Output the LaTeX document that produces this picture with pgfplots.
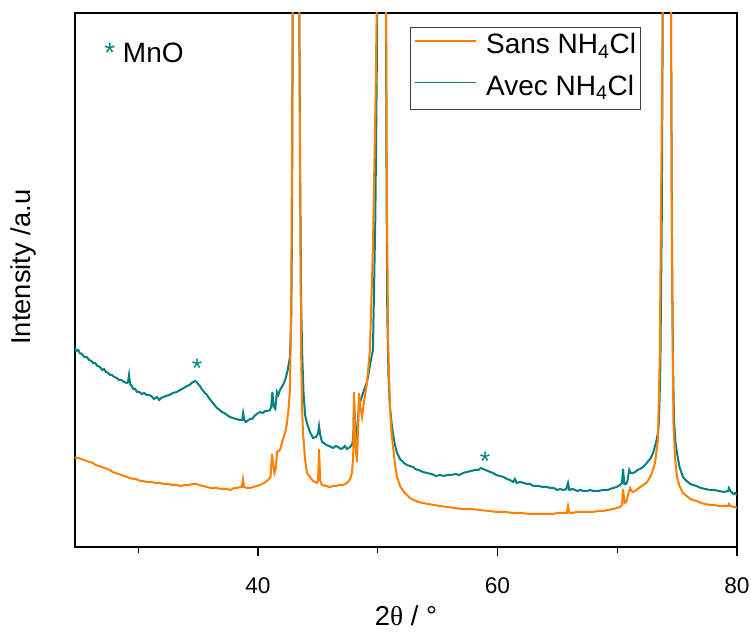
\documentclass[border=0pt]{standalone}
\usepackage{pgfplots}
\pgfplotsset{compat=1.18}
\usepackage{fontspec}
\setmainfont{Liberation Sans}
\newfontfamily\seriffont{Liberation Serif}
\definecolor{myorange}{RGB}{255,128,0}
\definecolor{myteal}{RGB}{0,128,128}

\begin{document}
\begin{tikzpicture}
\begin{axis}[
 at={(0pt,0pt)}, anchor=south west,
 scale only axis, width=496.5pt, height=400.5pt,
 xmin=24.72, xmax=80, ymin=0, ymax=534,
 xtick={40,60,80}, minor xtick={30,50,70},
 ytick=\empty,
 xtick pos=bottom, tick align=outside,
 major tick length=6.5pt, minor tick length=4.5pt,
 every tick/.style={black, line width=0.9pt},
 axis line style={line width=1.1pt},
 /pgf/number format/assume math mode=true,
 xticklabel style={font=\fontsize{17}{20}\selectfont, anchor=center, yshift=-22.5pt},
 xlabel={2{\seriffont θ} / °},
 xlabel style={at={(axis description cs:0.5,-0.129)}, anchor=center, font=\fontsize{20.5}{24}\selectfont},
 ylabel={Intensity /a.u},
 ylabel style={at={(axis description cs:-0.0785,0.524)}, anchor=center, font=\fontsize{20.5}{24}\selectfont},
 legend style={at={(axis description cs:0.8545,0.9743)}, anchor=north east,
   draw=black!75, line width=0.75pt, font=\fontsize{21}{25}\selectfont,
   inner xsep=3pt, inner ysep=5pt, row sep=10pt, column sep=6.75pt,
   nodes={inner sep=0pt, text height=15pt, text depth=6pt}},
 legend cell align=left,
 legend image code/.code={\draw[#1, line width=1.2pt] (0pt,5pt) -- (46pt,5pt);},
]
\addplot[myteal, line width=1.5pt, forget plot] table {
24.72 200
24.80 196
25.00 197
25.10 194
25.30 193
25.50 190
25.70 190
25.90 187
26.10 186
26.22 184
26.40 184
26.60 181
26.80 180
27.00 177
27.15 178
27.30 175
27.50 174
27.64 172
27.80 172
28.00 170
28.20 169
28.40 167
28.60 167
28.80 165
29.06 164
29.15 165
29.23 172
29.32 163
29.45 161
29.60 158
29.75 158
29.90 155
30.10 155
30.30 153
30.50 154
30.70 152
30.90 152
31.10 151
31.30 148
31.57 150
31.75 147
31.90 149
32.10 150
32.30 151
32.60 152
32.90 154
33.20 155
33.50 157
33.80 159
34.07 161
34.30 162
34.45 164
34.60 165
34.74 166
34.88 165
35.00 163
35.15 161
35.30 158
35.50 155
35.74 152
35.90 149
36.10 146
36.30 143
36.58 139
36.80 137
37.00 135
37.20 134
37.41 132
37.65 130
37.90 129
38.20 128
38.50 127
38.68 127
38.76 134
38.86 127
39.00 125
39.10 126
39.33 128
39.50 128
39.70 131
39.90 133
40.17 135
40.40 134
40.60 136
40.80 136
41.00 137
41.10 140
41.20 155
41.32 140
41.45 138
41.58 155
41.70 152
41.84 157
42.09 162
42.30 168
42.50 178
42.67 190
42.78 230
42.85 330
42.90 534
42.95 800
43.17 3000
43.40 800
43.45 534
43.52 380
43.60 250
43.68 197
43.80 155
43.93 132
44.09 124
44.34 115
44.60 109
44.85 110
45.02 114
45.10 121
45.20 112
45.35 105
45.50 104
45.70 102
45.95 101
46.27 99
46.50 101
46.70 100
46.90 98
47.10 99
47.25 101
47.43 98
47.70 100
47.88 103
47.97 112
48.02 145
48.10 128
48.20 110
48.27 105
48.36 128
48.44 145
48.56 146
48.77 154
49.10 165
49.19 170
49.35 182
49.60 197
49.80 330
49.90 450
49.96 534
50.02 800
50.30 3000
50.62 800
50.69 534
50.74 350
50.80 230
50.90 170
51.02 140
51.19 120
51.40 104
51.61 94
51.86 88
52.20 84
52.44 82
52.70 81
52.95 80
53.15 78
53.40 77
53.60 76
53.78 75
54.10 74
54.50 73
54.85 71
55.20 72
55.50 71
55.79 72
56.10 72
56.50 73
56.80 72
57.12 74
57.45 75
57.80 76
58.10 77
58.40 77
58.60 79
58.79 78
59.00 77
59.20 76
59.40 75
59.63 74
59.90 72
60.20 71
60.50 70
60.80 68
61.05 67
61.30 65
61.45 68
61.60 64
61.90 65
62.20 64
62.45 63
62.72 63
63.00 61
63.40 61
63.80 60
64.14 60
64.40 59
64.70 59
65.00 57
65.22 58
65.50 57
65.75 58
65.89 64
66.00 57
66.25 58
66.50 57
66.70 56
66.89 57
67.20 56
67.50 56
67.75 57
67.98 56
68.40 56
68.80 57
69.20 57
69.65 59
69.95 60
70.23 62
70.40 64
70.48 78
70.60 63
70.75 63
70.85 66
71.00 77
71.12 74
71.32 74
71.50 75
71.70 77
71.90 78
72.15 80
72.40 83
72.60 86
72.80 89
72.99 94
73.25 105
73.40 114
73.49 127
73.60 180
73.72 330
73.80 534
73.86 800
74.15 3000
74.43 800
74.49 534
74.56 330
74.65 190
74.74 127
74.86 105
74.99 94
75.20 80
75.49 70
75.70 67
75.90 65
76.10 63
76.33 62
76.60 61
77.00 59
77.35 58
77.75 57
78.10 57
78.50 56
78.90 55
79.25 56
79.33 59
79.45 56
79.70 53
79.85 54
80.00 52
};
\addplot[myorange, line width=1.5pt, forget plot] table {
24.72 90
24.80 89
25.00 89
25.20 88
25.45 87
25.70 86
25.95 85
26.22 84
26.45 82
26.70 81
26.95 80
27.20 79
27.40 78
27.64 77
27.85 75
28.10 74
28.35 73
28.60 72
28.85 71
29.06 70
29.30 69
29.60 68
29.80 68
30.00 67
30.20 66
30.40 66
30.75 65
31.10 65
31.45 64
31.82 64
32.15 63
32.50 63
32.85 62
33.24 62
33.55 61
33.90 62
34.20 62
34.57 63
34.85 63
35.10 62
35.40 61
35.74 60
36.10 59
36.50 59
36.95 58
37.41 58
37.70 57
38.00 59
38.25 59
38.50 60
38.65 60
38.75 68
38.85 60
39.08 59
39.35 59
39.60 60
39.90 61
40.17 62
40.50 64
40.84 67
41.05 70
41.17 93
41.28 82
41.38 74
41.48 78
41.59 95
41.84 97
42.09 108
42.30 116
42.42 124
42.55 138
42.67 157
42.78 250
42.86 450
42.90 534
42.95 800
43.17 3000
43.40 800
43.45 534
43.52 350
43.60 197
43.68 140
43.76 114
43.93 88
44.09 74
44.34 70
44.60 66
44.93 64
45.02 67
45.10 98
45.20 66
45.35 62
45.70 61
46.01 60
46.25 61
46.50 61
46.80 62
47.10 62
47.43 64
47.70 68
47.85 74
47.95 90
48.02 155
48.10 120
48.18 95
48.27 85
48.36 120
48.44 154
48.55 140
48.69 130
48.85 145
49.10 164
49.35 197
49.60 300
49.82 450
49.91 534
49.97 800
50.30 3000
50.64 800
50.70 534
50.78 320
50.88 200
51.02 140
51.15 115
51.28 100
51.45 82
51.61 70
51.90 60
52.20 55
52.44 52
52.70 49
53.00 47
53.40 45
53.78 44
54.20 43
54.70 42
55.20 41
55.79 40
56.40 39
57.00 38
57.80 38
58.54 37
59.30 36
60.00 35
60.70 35
61.30 34
62.00 34
62.70 33
63.40 33
64.14 33
64.60 33
65.00 34
65.47 34
65.78 34
65.89 41
66.00 34
66.22 34
66.60 35
67.00 35
67.50 35
67.98 35
68.40 36
68.80 36
69.20 37
69.65 38
69.95 39
70.23 40
70.40 42
70.48 58
70.62 44
70.75 45
70.90 52
71.07 59
71.20 56
71.32 55
71.60 57
71.90 60
72.20 62
72.49 65
72.70 69
72.90 74
73.15 84
73.40 107
73.55 190
73.70 400
73.80 534
73.86 800
74.15 3000
74.43 800
74.49 534
74.58 260
74.70 120
74.84 88
74.99 70
75.20 61
75.49 54
75.70 52
75.90 50
76.10 48
76.33 47
76.65 46
77.00 44
77.35 43
77.75 42
78.10 42
78.50 41
78.90 41
79.25 41
79.33 43
79.45 41
79.70 40
79.85 40
80.00 39
};
\addlegendimage{myorange}
\addlegendentry{Sans NH\textsubscript{4}Cl}
\addlegendimage{myteal}
\addlegendentry{Avec NH\textsubscript{4}Cl}
\node[anchor=base west, font=\fontsize{21}{25}\selectfont, inner sep=0pt] at (axis description cs:0.0438,0.908) {\textcolor{myteal}{*} MnO};
\node[myteal, font=\fontsize{20}{24}\selectfont, inner sep=0pt] at (axis cs:34.91,179) {*};
\node[myteal, font=\fontsize{20}{24}\selectfont, inner sep=0pt] at (axis cs:58.96,86) {*};
\end{axis}
\pgfresetboundingbox
\path (-56.25pt,-63.75pt) rectangle (507pt,410.25pt);
\end{tikzpicture}
\end{document}
